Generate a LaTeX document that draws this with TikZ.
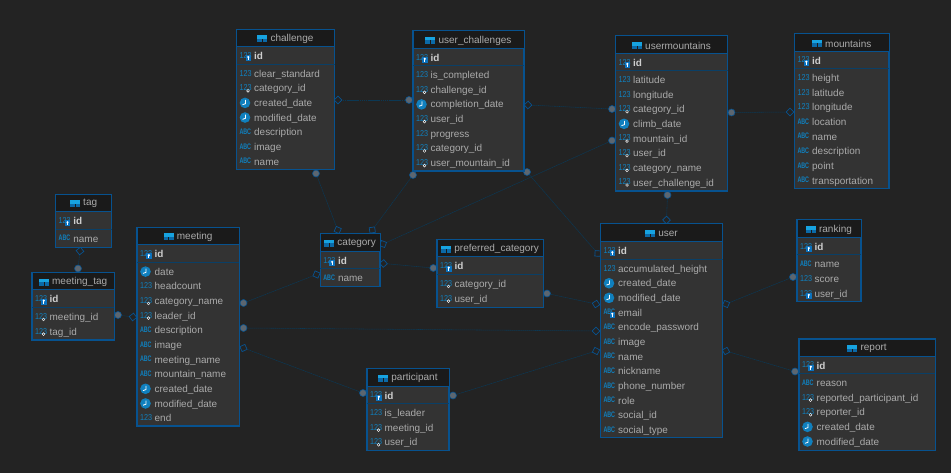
\documentclass[tikz,border=0pt]{standalone}
\usepackage{graphicx}
\usepackage{fontspec}
\setmainfont{Liberation Sans}
\usetikzlibrary{shapes.geometric}
\definecolor{bgc}{HTML}{232323}
\definecolor{bodyc}{HTML}{333333}
\definecolor{headc}{HTML}{1A1A1A}
\definecolor{borderc}{HTML}{07528F}
\definecolor{divc}{HTML}{0A3F66}
\definecolor{linec}{HTML}{0B3854}
\definecolor{txtc}{HTML}{ABABAB}
\definecolor{idc}{HTML}{CFCFCF}
\definecolor{iconc}{HTML}{1080BE}
\definecolor{capc}{HTML}{17A3E0}
\definecolor{caplowc}{HTML}{0B6AA8}
\definecolor{keyc}{HTML}{0B72BE}
\definecolor{dotc}{HTML}{5C6670}
\tikzset{
  tablebox/.style={draw=borderc,line width=1.1pt,fill=bodyc,anchor=north west,inner sep=0pt,outer sep=0pt},
  rowtext/.style={anchor=base west,inner sep=0pt,text=txtc,font=\fontsize{9.95}{12}\selectfont},
  idtext/.style={rowtext,text=idc,font=\fontsize{9.95}{12}\selectfont\bfseries},
  titletext/.style={anchor=center,inner sep=0pt,text=txtc,font=\fontsize{10}{12}\selectfont},
  numtext/.style={anchor=base west,inner sep=0pt,text=iconc,font=\fontsize{8.6}{10}\selectfont},
  abctext/.style={anchor=base west,inner sep=0pt,text=iconc,font=\fontsize{8}{9}\selectfont\bfseries},
  fkdot/.style={circle,fill=dotc,draw=borderc,line width=.6pt,minimum size=7pt,inner sep=0pt},
  pkdiam/.style={diamond,aspect=1,draw=borderc,line width=.7pt,minimum size=8pt,inner sep=0pt},
  rel/.style={draw=linec,line width=.55pt,dash pattern=on 1.6pt off .5pt},
}
% icons: #1 node prefix, #2 x of table, #3 y of row
\newcommand{\icoN}[3]{\node[numtext] (#1) at (#2+2.8,#3+2.5) {\scalebox{.84}[1]{123}};}
\newcommand{\icoA}[3]{\node[abctext] (#1) at (#2+2.8,#3+2.4) {\scalebox{.67}[1]{ABC}};}
\newcommand{\keyB}[2]{\fill[keyc] (#1+9,#2-.5) rectangle +(5.6,6);\fill[white] (#1+11.8,#2+1.3) circle (1.2);\fill[white] (#1+11.3,#2+1.5) rectangle +(1,2.8);}
\newcommand{\keyF}[2]{\fill[white] (#1+11.5,#2+2.6) circle (1.7);\fill[bodyc] (#1+11.5,#2+2.6) circle (.85);}
\newcommand{\icoK}[3]{\icoN{#1}{#2}{#3}\keyB{#2}{#3}}
\newcommand{\icoF}[3]{\icoN{#1}{#2}{#3}\keyF{#2}{#3}}
\newcommand{\icoE}[3]{\icoA{#1}{#2}{#3}\keyB{#2}{#3}}
\newcommand{\icoD}[3]{\node[circle,fill=iconc,minimum size=10.6pt,inner sep=0pt] (#1) at (#2+8.5,#3) {};
  \draw[white,line width=.8pt] (#2+8.9,#3-2.9) -- (#2+8.9,#3+.8) -- (#2+6,#3+1.8);}
% table: name, title (x0,y0,x1,y1;header bottom,divider) rows
\def\erdtable#1#2(#3,#4,#5,#6;#7,#8)#9{%
  \pgfmathsetmacro\tw{#5-#3}\pgfmathsetmacro\th{#6-#4}
  \node[tablebox,minimum width=\tw pt,minimum height=\th pt] (#1) at (#3,#4) {};
  \fill[headc] (#3+.5,#4+.5) rectangle (#5-.5,#7);
  \draw[borderc,line width=.9pt] (#3,#7) -- (#5,#7);
  \draw[divc,line width=.8pt] (#3,#8) -- (#5,#8);
  \pgfmathsetmacro\cx{(#3+#5)/2+6.5}\pgfmathsetmacro\cy{(#4+#7)/2+1}
  \node[titletext] (#1-title) at (\cx,\cy) {#2};
  \fill[capc] ([xshift=-13pt,yshift=-3.5pt]#1-title.west) rectangle ([xshift=-3pt,yshift=3.5pt]#1-title.west);
  \fill[caplowc] ([xshift=-13pt,yshift=-3.5pt]#1-title.west) rectangle ([xshift=-3pt,yshift=0pt]#1-title.west);
  \draw[headc,line width=.5pt] ([xshift=-8pt,yshift=-3.5pt]#1-title.west) -- ([xshift=-8pt,yshift=0pt]#1-title.west);
  \pgfmathsetmacro\idy{(#7+#8)/2+.8}
  \icoK{#1-idic}{#3}{\idy}
  \node[idtext] (#1-id) at (#3+17.5,\idy+3.6) {id};
  \foreach \ic/\tx [count=\ri from 0] in {#9}{
    \pgfmathsetmacro\ry{#8+9.6+\ri*14.65}
    \csname ico\ic\endcsname{#1-ic\ri}{#3}{\ry}
    \node[rowtext] (#1-r\ri) at (#3+17.5,\ry+3.6) {\tx};
  }
}
% relation: FK-dot name, x, y, PK-diamond name, x, y
\newcommand{\relation}[6]{%
  \pgfmathsetmacro\ra{atan2(-(#6-#3),#5-#2)}
  \node[fkdot] (#1) at (#2,#3) {};
  \node[pkdiam,rotate=\ra] (#4) at (#5,#6) {};
  \draw[rel] (#1) -- (#4);
}
\begin{document}
\begin{tikzpicture}[x=1pt,y=-1pt]
\useasboundingbox (0,0) rectangle (951,473);
\fill[bgc] (0,0) rectangle (951,473);

\relation{d1}{316}{173.5}{m1}{337.7}{230}
\relation{d2}{413}{175}{m2}{372.3}{230}
\relation{d3}{409}{100}{m3}{338}{100}
\relation{d4}{612}{109}{m4}{528}{105}
\relation{d5}{527}{172}{m5}{597.7}{253.5}
\relation{d6}{612}{140.5}{m6}{383}{244}
\relation{d7}{731.5}{112.5}{m7}{790}{112}
\relation{d8}{667.5}{195}{m8}{666.5}{220}
\relation{d9}{433.3}{268}{m9}{383.5}{263.5}
\relation{d10}{547}{293.5}{m10}{596}{304}
\relation{d11}{243.5}{303}{m11}{316.5}{274.5}
\relation{d12}{243.5}{328}{m12}{596}{331}
\relation{d13}{363}{393}{m13}{243.5}{348}
\relation{d14}{453}{395.5}{m14}{596}{351}
\relation{d15}{793}{277}{m15}{726}{304}
\relation{d16}{795}{371.5}{m16}{726}{351}
\relation{d17}{78}{268.5}{m17}{80}{251}
\relation{d18}{118}{315}{m18}{133}{317}

\erdtable{challenge}{challenge}(236.5,29.5,334.5,169.5;46,64){N/clear\_standard,F/category\_id,D/created\_date,D/modified\_date,A/description,A/image,A/name}
\erdtable{userchallenges}{user\_challenges}(413,31,524,171;48,65.5){N/is\_completed,F/challenge\_id,D/completion\_date,F/user\_id,N/progress,F/category\_id,F/user\_mountain\_id}
\erdtable{usermountains}{usermountains}(615.5,36,727.5,191;53.3,70.3){N/latitude,N/longitude,F/category\_id,D/climb\_date,F/mountain\_id,F/user\_id,F/category\_name,F/user\_challenge\_id}
\erdtable{mountains}{mountains}(794.5,34,889,188.3;51,68.3){N/height,N/latitude,N/longitude,A/location,A/name,A/description,A/point,A/transportation}
\erdtable{user}{user}(600.5,224,722.5,437.5;241.3,259){N/accumulated\_height,D/created\_date,D/modified\_date,E/email,A/encode\_password,A/image,A/name,A/nickname,A/phone\_number,A/role,A/social\_id,A/social\_type}
\erdtable{ranking}{ranking}(797,220,861,301.5;237.3,254.7){A/name,N/score,K/user\_id}
\erdtable{report}{report}(799,339,935.3,450.5;356,373.3){A/reason,F/reported\_participant\_id,F/reporter\_id,D/created\_date,D/modified\_date}
\erdtable{category}{category}(320.3,233.5,380,286.3;251.3,268.3){A/name}
\erdtable{preferredcategory}{preferred\_category}(437,239.5,543.3,307.3;256.7,274.3){F/category\_id,F/user\_id}
\erdtable{participant}{participant}(367,368.7,449,450.7;386,403.3){N/is\_leader,F/meeting\_id,F/user\_id}
\erdtable{tag}{tag}(55.7,194.3,111.7,247.3;211.3,229){A/name}
\erdtable{meetingtag}{meeting\_tag}(32,273,114.3,340;289.7,307.3){F/meeting\_id,F/tag\_id}
\erdtable{meeting}{meeting}(137,227.5,239.3,426;244.3,262){D/date,N/headcount,F/category\_name,F/leader\_id,A/description,A/image,A/meeting\_name,A/mountain\_name,D/created\_date,D/modified\_date,N/end}
\end{tikzpicture}
\end{document}
